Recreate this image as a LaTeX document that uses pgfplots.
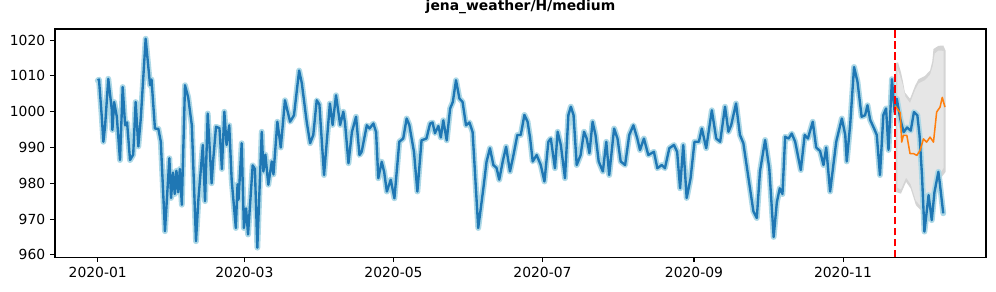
\documentclass[border=0pt]{standalone}
\usepackage{fontspec}
\setmainfont{DejaVu Sans}
\usepackage{pgfplots}
\pgfplotsset{compat=1.18}
\usepackage{pgfplotstable}
\definecolor{tabblue}{RGB}{31,119,180}
\definecolor{taborange}{RGB}{255,127,14}
\definecolor{halo}{RGB}{173,216,230}
\definecolor{ringgray}{RGB}{212,212,212}
\definecolor{innergray}{RGB}{230,230,230}

\pgfplotstableread{
d v
0 1008.7
0.5 1009
1.6 999
2.3 991.6
3 996
4.3 1009.2
5.7 1000.8
6 994.9
6.7 1002.7
7.8 998.6
9.1 986.5
10.2 1006.9
11.2 996.2
12 997
13.2 986.5
14.5 988
15.5 1002.7
16.6 990.3
17.6 998.1
19.6 1020.4
21.4 1007.4
22 1009
23.4 995.3
24.8 995.2
25.8 991.6
27.5 966.6
29.3 987
30 975.9
30.8 983
31.5 977
32.2 983.5
32.9 977.5
33.6 984
34.4 974
35.7 1007.4
37 1004
38.5 996.2
40.2 963.8
41.2 975.7
43 990.7
43.9 975
45 999.5
46.6 980
47.3 987
48.4 995.8
49.8 995.4
50.8 984
51.8 1000
52.7 990.7
53.8 996.2
54.8 980.9
56.5 967.5
57.2 979.7
57.6 975.4
58.9 991.2
59.8 967.5
60.7 973
61.5 965.7
63.4 985
64.3 984
65.3 962
67.1 994.4
67.8 983.3
68.6 988
69.8 979.6
71.2 986.1
71.9 982.5
73.5 997.2
74.9 990
76.6 1003.2
78.7 997.2
80.3 999
82.4 1011.5
83.5 1008
85.5 997.2
86.9 991.2
88.2 993.5
89.6 1003.2
90.7 1002
92.6 982.3
95 1002.3
96.1 996.3
97.5 1004.6
99.2 996.3
100.5 1000
101.2 996.8
102.6 985.6
104 994.3
105.7 998.6
107.1 987.9
108 988.8
110.1 996.2
111.2 995.3
112.8 996.7
113.9 994.3
114.8 981.4
116.2 986
117.2 983.2
118.3 977.7
119.9 981
121.4 975.8
123.4 991.6
125 992.5
126.4 998.1
127.5 996.3
129.4 988.8
130.8 977.7
132.5 992
134.5 992.5
136 996.7
137 997
138 994
139.4 996
140.4 992.8
141.4 997.6
142.8 992
144.2 1000.9
145.3 1002.7
146.6 1008.8
148 1003.7
149.3 1002.7
150.7 996.2
152.1 997
153.4 994.3
155.7 967.5
157.8 978.6
159.1 986
160.5 989.8
161.9 985.1
163.2 984.3
164.3 981
165.7 986
167.1 990.2
168.7 983.3
170.1 987.8
171.7 993.5
173.1 993.5
174.6 999.1
175.9 997.2
176.9 992.8
178 986.1
179.6 987.9
181.3 985.1
182.8 980.5
184.4 991.6
185.4 992.5
187.1 984.2
188.2 994.4
189.5 990.7
191.2 981.4
192.6 999.1
193.6 1001.4
194.7 999.1
196 985.1
197.6 987.9
199 994.4
200.1 992.5
201.2 988.4
202.5 997.2
203.7 993.5
205 986.1
206.7 983.3
208.1 991.6
209.3 982.3
211.3 995.3
212.7 992.5
214 986.1
215.8 985.1
217.5 993.5
219.2 996.2
220.8 992.5
221.9 989.3
223.5 992.5
225.3 987.9
227.6 988.8
229 984.2
230.8 985.1
232.1 984.2
233.9 989.8
235.8 990.7
237.1 988.8
238.3 978.6
239.6 990.7
241 975.9
242.6 981.4
244.2 991.6
246 991.6
247.2 995.3
249 989.8
251.3 1000.4
253.1 992.5
254.7 991.6
256.7 1001.4
258.1 994.4
259.2 996.2
261.2 1002.3
262.8 993.5
264.2 991.2
266.5 980.5
268.3 972.2
269.7 970.3
271 983.3
273.1 992.1
274.8 984.2
276.6 965
277.9 974.7
279.1 978.6
280.2 977
281.3 993
282.7 992.5
284 993.9
285.4 991.6
287.7 983.7
289.3 993.5
290.6 992.5
292.6 997.2
294 990
295.6 989
297 985.1
298.1 990
299.7 977.7
302.2 991.6
304.5 998.1
305.9 993.5
306.5 986.1
307.9 996.2
309.5 1012.5
310.9 1008.4
312.6 998.6
314 999
315 1001.8
316.1 997.7
317.7 995.3
318.8 993.5
320.1 982.3
321.5 999.1
322.6 1000.9
323.6 989.3
325 1009.1
326.1 999.9
327 1003.6
328.4 998
329.8 994.3
331.2 995.6
332.7 994.7
334 999.9
335.4 999
336.3 993.4
337.3 982.3
338.3 966.5
340 976.7
341.3 969.7
342.4 977.5
344 983.2
344.6 980
346 971.6
}\observed

\pgfplotstableread{
d v
326.3 1001.7
327.4 1000.6
328.4 999.7
329 991.5
329.7 993.4
331.1 993.4
332.4 988.3
333.8 988.3
335.2 987.8
336.5 989.2
337.9 992.4
339.2 991.5
340.6 992.9
342 991.5
343.3 999.9
344.7 1001.3
345.6 1004
346.7 1001.3
}\forecast

\begin{document}
\begin{tikzpicture}
\begin{axis}[
  at={(0,0)}, anchor=south west,
  scale only axis,
  width=670.3pt, height=164.4pt,
  xmin=-17.5, xmax=363.5,
  ymin=959.3, ymax=1023.1,
  xtick={0,60,121,182,244,305},
  xticklabels={2020-01,2020-03,2020-05,2020-07,2020-09,2020-11},
  ytick={960,970,980,990,1000,1010,1020},
  /pgf/number format/assume math mode=true,
  /pgf/number format/1000 sep={},
  tick align=outside,
  xtick pos=bottom, ytick pos=left,
  major tick length=3.5pt,
  every tick/.style={black, line width=0.8pt},
  axis line style={black, line width=0.8pt},
  tick label style={font=\fontsize{10}{12}\selectfont},
  title={jena\_weather/H/medium},
  title style={font=\bfseries\fontsize{10}{12}\selectfont, at={(0.5,1)}, anchor=base, yshift=7.2pt, inner sep=0pt},
]
% uncertainty bands
\addplot[draw=none, fill=ringgray] coordinates {
 (326.5,1013.5) (327.5,1013.8) (328.7,1011) (329.5,1008.5) (330.3,1005.4) (332.4,1003.6)
 (334.5,1007.3) (335.9,1009.1) (338.5,1010) (340.6,1011.5) (341.5,1014) (342,1017.5)
 (344,1018.4) (346,1018.5) (347,1017)
 (347,983.2) (344.5,981) (342.5,974.5) (340.5,971.5) (338.5,971.1) (336.8,972.5)
 (334.8,973.9) (332.7,978.5) (330.8,980.4) (328.7,977.1) (326.5,977.6)
} -- cycle;
\addplot[draw=none, fill=innergray] coordinates {
 (327.2,1012.2) (328.3,1010) (329.5,1007.3) (330.5,1004.2) (332.4,1002.4)
 (334.5,1006.1) (335.9,1007.9) (338.5,1008.8) (340.6,1010.3) (341.8,1013) (342.5,1016.2)
 (344,1017.1) (346.2,1017)
 (346.2,984.4) (344.3,982.2) (342.3,975.7) (340.5,972.7) (338.5,972.3) (336.8,973.7)
 (334.8,975.1) (332.7,979.7) (330.8,981.6) (328.7,978.3) (327.2,978.8)
} -- cycle;
% observed series: marker halo and line
\addplot[halo, line width=4.2pt, line join=round, line cap=round] table[x=d, y=v] {\observed};
\addplot[tabblue, line width=1.7pt, line join=round] table[x=d, y=v] {\observed};
% forecast
\addplot[taborange, line width=1.1pt, line join=round] table[x=d, y=v] {\forecast};
% forecast start
\addplot[red, line width=1.4pt, dash pattern=on 5.5pt off 2.4pt] coordinates {(326.3,959.3) (326.3,1023.1)};
\end{axis}
\pgfresetboundingbox
\path[use as bounding box] (-39.6pt,-24.3pt) rectangle (677.5pt,185.3pt);
\end{tikzpicture}
\end{document}
